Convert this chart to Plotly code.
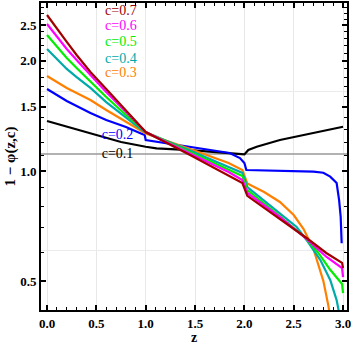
import plotly.graph_objects as go

# ---- data (z, 1-phi) ----
z_red = [0, 0.1, 0.2, 0.3, 0.44, 0.6, 0.8, 0.95, 1.0, 1.45, 1.84, 1.98, 2.03, 2.36, 2.63, 2.83, 2.99, 3.0]
y_red = [2.668, 2.443, 2.252, 2.075, 1.864, 1.675, 1.468, 1.327, 1.278, 1.106, 0.975, 0.927, 0.855, 0.739, 0.656, 0.597, 0.561, 0.543]

z_mag = [0, 0.1, 0.2, 0.3, 0.44, 0.6, 0.8, 0.95, 1.0, 1.45, 1.84, 1.98, 2.03, 2.36, 2.63, 2.83, 2.99, 3.0]
y_mag = [2.521, 2.323, 2.154, 2.011, 1.829, 1.644, 1.449, 1.319, 1.278, 1.116, 0.994, 0.945, 0.871, 0.749, 0.652, 0.583, 0.543, 0.513]

z_grn = [0, 0.1, 0.2, 0.3, 0.44, 0.6, 0.8, 0.95, 1.0, 1.45, 1.84, 1.98, 2.03, 2.36, 2.63, 2.75, 2.87, 2.97, 2.99, 3.0]
y_grn = [2.353, 2.182, 2.036, 1.912, 1.751, 1.593, 1.422, 1.311, 1.278, 1.127, 1.006, 0.969, 0.887, 0.753, 0.652, 0.597, 0.537, 0.501, 0.491, 0.464]

z_teal = [0, 0.1, 0.2, 0.3, 0.44, 0.6, 0.8, 0.95, 1.0, 1.45, 1.84, 1.98, 2.03, 2.19, 2.36, 2.53, 2.63, 2.77, 2.87, 2.935, 2.97, 3.0]
y_teal = [2.154, 2.023, 1.900, 1.806, 1.686, 1.543, 1.396, 1.302, 1.274, 1.138, 1.025, 0.988, 0.904, 0.833, 0.768, 0.703, 0.648, 0.571, 0.504, 0.444, 0.397, 0.345]

z_org = [0, 0.1, 0.2, 0.3, 0.44, 0.6, 0.8, 0.95, 1.0, 1.45, 1.84, 1.98, 2.03, 2.2, 2.36, 2.5, 2.6, 2.7, 2.8, 2.85, 2.9]
y_org = [1.818, 1.751, 1.686, 1.633, 1.563, 1.468, 1.361, 1.286, 1.266, 1.148, 1.052, 1.006, 0.924, 0.876, 0.823, 0.758, 0.694, 0.612, 0.501, 0.430, 0.356]

z_blue = [0, 0.1, 0.2, 0.3, 0.44, 0.6, 0.8, 0.94, 0.99, 1.0, 1.11, 1.45, 1.85, 1.955, 2.0, 2.02, 2.36, 2.7, 2.8, 2.87, 2.935, 2.96, 2.976, 2.986]
y_blue = [1.675, 1.613, 1.553, 1.505, 1.440, 1.378, 1.319, 1.270, 1.254, 1.215, 1.202, 1.165, 1.120, 1.085, 1.052, 1.006, 1.002, 0.996, 0.989, 0.965, 0.927, 0.833, 0.750, 0.635]

z_blk = [0, 0.25, 0.5, 0.75, 1.0, 1.11, 1.45, 1.85, 2.0, 2.04, 2.125, 2.36, 2.7, 3.0]
y_blk = [1.370, 1.311, 1.254, 1.200, 1.165, 1.153, 1.141, 1.122, 1.110, 1.141, 1.165, 1.215, 1.268, 1.321]

ref_level = 1.113          # grey horizontal line
grid_levels = [0.6065, 1.6487]

labels = ["c=0.7", "c=0.6", "c=0.5", "c=0.4", "c=0.3", "c=0.2", "c=0.1"]
label_z = [0.588, 0.588, 0.588, 0.588, 0.588, 0.554, 0.554]
label_y = [2.724, 2.480, 2.241, 2.020, 1.841, 1.254, 1.106]

colors = ["#a00000", "#ff00ff", "#00ee00", "#00aaaa", "#ff8000", "#0000ff", "#000000"]

xr = [-0.061, 3.040]

fig = go.Figure()

# faint horizontal grid + grey reference line
for g in grid_levels:
    fig.add_trace(go.Scatter(x=xr, y=[g, g], mode="lines",
                             line=dict(color="#ebebeb", width=1), hoverinfo="skip"))
fig.add_trace(go.Scatter(x=xr, y=[ref_level, ref_level], mode="lines",
                         line=dict(color="#999999", width=1.5), hoverinfo="skip"))

series = [(z_blk, y_blk), (z_blue, y_blue), (z_org, y_org), (z_teal, y_teal),
          (z_grn, y_grn), (z_mag, y_mag), (z_red, y_red)]
cols = colors[::-1]
for (zz, yy), col in zip(series, cols):
    fig.add_trace(go.Scatter(x=zz, y=yy, mode="lines",
                             line=dict(color=col, width=2.2)))

# curve labels
fig.add_trace(go.Scatter(x=label_z, y=label_y, mode="text", text=labels,
                         textposition="middle right",
                         textfont=dict(family="Liberation Serif", size=14, color=colors)))

tickfont = dict(family="Liberation Serif", size=13, color="black", weight="bold")

fig.update_xaxes(
    range=xr, automargin=False, showline=True, linecolor="black", linewidth=2, mirror="allticks",
    ticks="inside", ticklen=5, tickwidth=1.5, tickcolor="black",
    tickvals=[0, 0.5, 1, 1.5, 2, 2.5, 3], tickformat=".1f", tickfont=tickfont,
    showgrid=True, gridcolor="#e8e8e8", gridwidth=1, zeroline=False,
    minor=dict(dtick=0.1, tick0=0, ticks="inside", ticklen=3, tickwidth=1.2,
               tickcolor="black", showgrid=False),
    title=dict(text="z", font=dict(family="Liberation Serif", size=14, color="black", weight="bold"),
               standoff=4),
)
fig.update_yaxes(
    type="log", range=[-0.3798, 0.459], automargin=False, showline=True, linecolor="black", linewidth=2,
    mirror="allticks", ticks="inside", ticklen=5, tickwidth=1.5, tickcolor="black",
    tickvals=[0.5, 1.0, 1.5, 2.0, 2.5], ticktext=["0.5", "1.0", "1.5", "2.0", "2.5"],
    tickfont=tickfont, showgrid=False, zeroline=False,
    minor=dict(tickvals=[0.6, 0.7, 0.8, 0.9, 1.1, 1.2, 1.3, 1.4, 1.6, 1.7, 1.8, 1.9,
                         2.1, 2.2, 2.3, 2.4, 2.6, 2.7, 2.8],
               ticks="inside", ticklen=3, tickwidth=1.2, tickcolor="black", showgrid=False),
    title=dict(text="1 \u2212 \u03c6(z,c)", font=dict(family="Liberation Serif", size=15, color="black", weight="bold"),
               standoff=1),
)

fig.update_layout(
    width=353, height=345,
    margin=dict(l=41, r=6, t=3, b=35),
    plot_bgcolor="white", paper_bgcolor="white",
    showlegend=False, hovermode=False,
)

# the page body has a default 8px margin; drop it so the figure sits at the corner
fig.write_html("out.html", config={"displayModeBar": False},
               post_script="document.body.style.margin='0';")
